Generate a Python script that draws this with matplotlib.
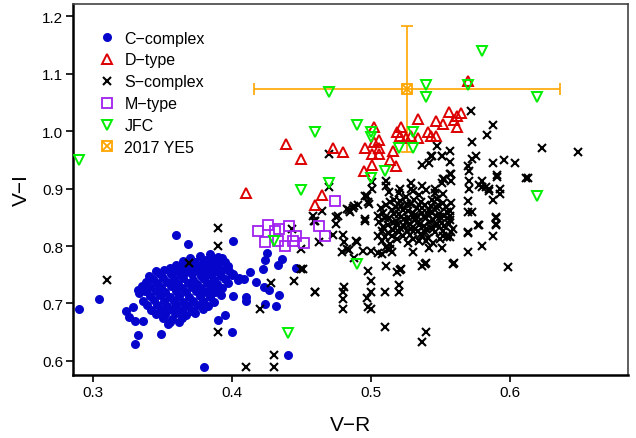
import matplotlib
matplotlib.use("Agg")
import matplotlib.pyplot as plt
from matplotlib.lines import Line2D

plt.rcParams["font.family"] = ["Liberation Sans", "DejaVu Sans"]

# ── data (V-R, V-I) ────────────────────────────────────────────────────────────

C_COMPLEX = [
    # sparse
    (0.290, 0.690), (0.304, 0.708), (0.360, 0.820), (0.368, 0.804), (0.324, 0.687),
    (0.326, 0.677), (0.330, 0.670), (0.332, 0.645), (0.330, 0.629), (0.349, 0.647),
    (0.332, 0.724), (0.337, 0.722), (0.329, 0.694), (0.336, 0.670), (0.354, 0.664),
    (0.401, 0.809), (0.425, 0.788), (0.424, 0.776), (0.422, 0.760), (0.436, 0.778),
    (0.433, 0.767), (0.446, 0.762), (0.413, 0.755), (0.417, 0.738), (0.423, 0.729),
    (0.427, 0.724), (0.434, 0.715), (0.432, 0.696), (0.424, 0.699), (0.410, 0.711),
    (0.410, 0.704), (0.401, 0.713), (0.395, 0.680), (0.390, 0.671), (0.400, 0.650),
    (0.380, 0.589), (0.440, 0.610), (0.409, 0.742), (0.405, 0.745), (0.401, 0.752),
    # dense clump
    (0.384, 0.786), (0.390, 0.781),
    (0.370, 0.779), (0.377, 0.782), (0.381, 0.776), (0.387, 0.777), (0.393, 0.779),
    (0.365, 0.774), (0.373, 0.772), (0.379, 0.771), (0.386, 0.770), (0.395, 0.773),
    (0.360, 0.767), (0.368, 0.769), (0.375, 0.765), (0.383, 0.766), (0.390, 0.768), (0.397, 0.766),
    (0.355, 0.762), (0.363, 0.763), (0.371, 0.760), (0.379, 0.761), (0.388, 0.762), (0.393, 0.759),
    (0.345, 0.757), (0.351, 0.759), (0.359, 0.756), (0.367, 0.755), (0.376, 0.757), (0.383, 0.754),
    (0.390, 0.755), (0.398, 0.757),
    (0.348, 0.751), (0.356, 0.752), (0.363, 0.749), (0.371, 0.751), (0.378, 0.748), (0.385, 0.750),
    (0.392, 0.747), (0.340, 0.748), (0.400, 0.750),
    (0.343, 0.743), (0.350, 0.745), (0.358, 0.742), (0.365, 0.744), (0.372, 0.741), (0.380, 0.743),
    (0.387, 0.741), (0.395, 0.742), (0.404, 0.741),
    (0.338, 0.737), (0.346, 0.735), (0.353, 0.737), (0.361, 0.734), (0.368, 0.736), (0.375, 0.733),
    (0.382, 0.735), (0.389, 0.734), (0.397, 0.736),
    (0.341, 0.729), (0.349, 0.728), (0.356, 0.730), (0.364, 0.727), (0.371, 0.729), (0.378, 0.726),
    (0.385, 0.728), (0.393, 0.727), (0.335, 0.731),
    (0.338, 0.721), (0.345, 0.722), (0.352, 0.720), (0.360, 0.721), (0.367, 0.719), (0.374, 0.721),
    (0.381, 0.719), (0.388, 0.720), (0.333, 0.718),
    (0.341, 0.713), (0.348, 0.714), (0.355, 0.712), (0.362, 0.713), (0.369, 0.711), (0.377, 0.713),
    (0.384, 0.712), (0.392, 0.714),
    (0.336, 0.705), (0.344, 0.706), (0.351, 0.704), (0.358, 0.705), (0.365, 0.703), (0.372, 0.705),
    (0.379, 0.704), (0.387, 0.703),
    (0.339, 0.697), (0.346, 0.698), (0.353, 0.696), (0.360, 0.697), (0.368, 0.695), (0.375, 0.697),
    (0.383, 0.696),
    (0.342, 0.689), (0.349, 0.690), (0.357, 0.688), (0.364, 0.689), (0.371, 0.687), (0.379, 0.690),
    (0.345, 0.682), (0.352, 0.681), (0.360, 0.683), (0.367, 0.680), (0.373, 0.683),
    (0.350, 0.674), (0.357, 0.673), (0.364, 0.675),
    (0.355, 0.667), (0.362, 0.668),
]

D_TYPE = [
    (0.410, 0.893), (0.439, 0.977), (0.450, 0.952), (0.460, 0.872), (0.473, 0.971),
    (0.480, 0.963), (0.465, 0.889), (0.495, 0.931), (0.501, 0.942), (0.501, 0.961),
    (0.496, 0.971), (0.502, 0.982), (0.502, 1.008), (0.506, 0.984), (0.506, 0.971),
    (0.506, 0.961), (0.514, 0.950), (0.518, 0.940), (0.516, 0.966), (0.519, 0.999),
    (0.522, 1.008), (0.521, 0.992), (0.525, 0.989), (0.529, 0.992), (0.534, 0.989),
    (0.534, 1.022), (0.541, 0.999), (0.543, 0.992), (0.547, 0.992), (0.547, 1.017),
    (0.552, 1.013), (0.556, 1.034), (0.560, 1.019), (0.562, 1.008), (0.562, 1.027),
    (0.565, 1.032), (0.570, 1.088),
]

S_COMPLEX = [
    # sparse, lower left
    (0.310, 0.741), (0.390, 0.832), (0.390, 0.800), (0.369, 0.771), (0.390, 0.650),
    (0.428, 0.736), (0.420, 0.690), (0.443, 0.830), (0.450, 0.795), (0.450, 0.760),
    (0.445, 0.739), (0.460, 0.720), (0.410, 0.589), (0.430, 0.610), (0.430, 0.589),
    (0.458, 0.853), (0.460, 0.844),
    # lower tail
    (0.465, 0.861), (0.459, 0.844), (0.463, 0.807), (0.451, 0.760), (0.460, 0.720),
    (0.473, 0.820), (0.475, 0.851), (0.475, 0.839), (0.480, 0.820), (0.479, 0.790),
    (0.484, 0.793), (0.481, 0.807), (0.485, 0.860), (0.491, 0.872), (0.496, 0.844),
    (0.490, 0.807), (0.494, 0.792), (0.500, 0.792), (0.505, 0.788), (0.488, 0.779),
    (0.498, 0.757), (0.500, 0.739), (0.500, 0.720), (0.497, 0.710), (0.498, 0.694),
    (0.500, 0.690), (0.481, 0.729), (0.480, 0.720), (0.480, 0.708), (0.480, 0.690),
    (0.510, 0.720), (0.511, 0.765), (0.510, 0.659), (0.519, 0.755), (0.521, 0.759),
    (0.520, 0.732), (0.520, 0.720), (0.537, 0.765), (0.540, 0.771), (0.540, 0.650),
    (0.537, 0.633), (0.560, 0.771), (0.599, 0.764), (0.580, 0.800), (0.588, 0.818),
    (0.590, 0.839), (0.590, 0.851), (0.578, 0.837), (0.570, 0.823), (0.570, 0.790),
    (0.551, 0.797), (0.542, 0.797), (0.530, 0.790), (0.515, 0.790), (0.514, 0.795),
    (0.511, 0.799),
    # upper spread
    (0.572, 1.036), (0.588, 1.010), (0.584, 0.994), (0.573, 0.982), (0.548, 0.975),
    (0.557, 0.966), (0.551, 0.956), (0.557, 0.947), (0.544, 0.956), (0.542, 0.945),
    (0.576, 0.957), (0.573, 0.952), (0.570, 0.940), (0.588, 0.945), (0.596, 0.949),
    (0.604, 0.945), (0.623, 0.970), (0.649, 0.964), (0.613, 0.919), (0.591, 0.921),
    (0.571, 0.930), (0.557, 0.926), (0.552, 0.916), (0.571, 0.914), (0.580, 0.914),
    (0.580, 0.903), (0.585, 0.900), (0.593, 0.900), (0.546, 0.900),
    (0.470, 0.961), (0.543, 0.957), (0.537, 0.942), (0.551, 0.957),
    (0.558, 0.926), (0.551, 0.909), (0.553, 0.917), (0.558, 0.914), (0.529, 0.909),
    (0.537, 0.905), (0.511, 0.914), (0.511, 0.905), (0.501, 0.912), (0.501, 0.900),
    (0.497, 0.888), (0.498, 0.877), (0.488, 0.870), (0.483, 0.865), (0.476, 0.853),
    (0.470, 0.902), (0.521, 0.900), (0.529, 0.900),
    (0.484, 0.863), (0.487, 0.867), (0.496, 0.888), (0.499, 0.874), (0.496, 0.847),
    (0.489, 0.809), (0.483, 0.795), (0.505, 0.818), (0.508, 0.786), (0.512, 0.795),
    (0.591, 0.923), (0.612, 0.919), (0.578, 0.907), (0.583, 0.903), (0.585, 0.896),
    (0.593, 0.891), (0.588, 0.881), (0.571, 0.900), (0.570, 0.879), (0.570, 0.860),
    (0.573, 0.860), (0.577, 0.837), (0.590, 0.849), (0.590, 0.837), (0.570, 0.825),
    (0.559, 0.769), (0.539, 0.769), (0.522, 0.760), (0.557, 0.816), (0.558, 0.825),
    (0.552, 0.818), (0.540, 0.809), (0.537, 0.818), (0.557, 0.861), (0.557, 0.853),
    # dense core
    (0.506, 0.842), (0.508, 0.826), (0.509, 0.858), (0.510, 0.815), (0.511, 0.871),
    (0.512, 0.836), (0.513, 0.849), (0.514, 0.804), (0.515, 0.862), (0.516, 0.828),
    (0.517, 0.880), (0.518, 0.843), (0.519, 0.812), (0.520, 0.856), (0.521, 0.832),
    (0.522, 0.869), (0.523, 0.818), (0.524, 0.847), (0.525, 0.885), (0.526, 0.826),
    (0.527, 0.861), (0.528, 0.838), (0.529, 0.874), (0.530, 0.813), (0.531, 0.852),
    (0.532, 0.829), (0.533, 0.866), (0.534, 0.842), (0.535, 0.889), (0.536, 0.821),
    (0.537, 0.857), (0.538, 0.835), (0.539, 0.872), (0.540, 0.848), (0.541, 0.814),
    (0.542, 0.863), (0.543, 0.831), (0.544, 0.880), (0.545, 0.845), (0.546, 0.824),
    (0.547, 0.868), (0.548, 0.839), (0.549, 0.855), (0.550, 0.812), (0.552, 0.875),
    (0.553, 0.834), (0.555, 0.860), (0.557, 0.846), (0.559, 0.830),
    (0.507, 0.866), (0.510, 0.849), (0.512, 0.822), (0.514, 0.877), (0.516, 0.840),
    (0.518, 0.868), (0.520, 0.824), (0.522, 0.851), (0.524, 0.834), (0.526, 0.873),
    (0.528, 0.820), (0.530, 0.858), (0.532, 0.845), (0.534, 0.826), (0.536, 0.877),
    (0.538, 0.851), (0.540, 0.829), (0.542, 0.842), (0.544, 0.858), (0.546, 0.836),
    (0.548, 0.882), (0.550, 0.850), (0.552, 0.826), (0.554, 0.868), (0.556, 0.838),
    (0.509, 0.833), (0.513, 0.894), (0.517, 0.855), (0.519, 0.838), (0.521, 0.878),
    (0.523, 0.862), (0.525, 0.842), (0.527, 0.848), (0.529, 0.830), (0.531, 0.880),
    (0.533, 0.852), (0.535, 0.837), (0.537, 0.866), (0.539, 0.824), (0.541, 0.856),
    (0.543, 0.870), (0.545, 0.830), (0.547, 0.852), (0.549, 0.869), (0.551, 0.840),
    (0.553, 0.853), (0.505, 0.853), (0.508, 0.808), (0.520, 0.893), (0.530, 0.895),
    (0.540, 0.898), (0.515, 0.818), (0.527, 0.805), (0.535, 0.808), (0.545, 0.805),
    (0.555, 0.815), (0.558, 0.875), (0.552, 0.890), (0.546, 0.892),
]

M_TYPE = [
    (0.419, 0.827), (0.426, 0.837), (0.431, 0.827), (0.434, 0.830), (0.441, 0.834),
    (0.424, 0.807), (0.433, 0.809), (0.438, 0.800), (0.444, 0.809), (0.446, 0.818),
    (0.452, 0.806), (0.474, 0.879), (0.463, 0.835), (0.467, 0.818),
]

JFC = [
    (0.290, 0.950), (0.470, 1.069), (0.540, 1.080), (0.540, 1.059), (0.580, 1.139),
    (0.570, 1.080), (0.620, 1.059), (0.460, 0.999), (0.490, 1.010), (0.500, 0.999),
    (0.500, 0.990), (0.530, 0.999), (0.520, 0.970), (0.530, 0.970), (0.510, 0.931),
    (0.500, 0.919), (0.470, 0.910), (0.450, 0.898), (0.620, 0.888), (0.490, 0.769),
    (0.430, 0.809), (0.440, 0.649),
]

YE5_VR, YE5_VI = 0.526, 1.074
YE5_VR_ERR, YE5_VI_ERR = 0.110, 0.110

X_TICKS = [0.3, 0.4, 0.5, 0.6]
Y_TICKS = [0.6, 0.7, 0.8, 0.9, 1.0, 1.1, 1.2]

BLUE, RED, GREEN, PURPLE, ORANGE = "#0505cc", "#dd0000", "#00ee00", "#a020f0", "#ffa500"

# marker styles shared by plot and legend
STY_C = dict(marker="o", ls="none", color=BLUE, ms=6.5, mew=0)
STY_S = dict(marker="x", ls="none", color="black", ms=6, mew=1.5)
STY_D = dict(marker="^", ls="none", mfc="none", mec=RED, ms=7.5, mew=1.4)
STY_M = dict(marker="s", ls="none", mfc="none", mec=PURPLE, ms=7, mew=1.3)
STY_J = dict(marker="v", ls="none", mfc="none", mec=GREEN, ms=7.5, mew=1.4)
STY_Y1 = dict(marker="s", ls="none", mfc="none", mec=ORANGE, ms=6.5, mew=1.3)
STY_Y2 = dict(marker="x", ls="none", color=ORANGE, ms=6.5, mew=1.3)

# ── figure ─────────────────────────────────────────────────────────────────────

fig = plt.figure(figsize=(6.36, 4.39), dpi=100)
ax = fig.add_axes([0.115, 0.144, 0.872, 0.845])

ax.errorbar(YE5_VR, YE5_VI, xerr=YE5_VR_ERR, yerr=YE5_VI_ERR, fmt="none",
            ecolor=ORANGE, elinewidth=1.2, capsize=4, capthick=1.2, zorder=1)

cx, cy = zip(*C_COMPLEX)
ax.plot(cx, cy, zorder=2, **STY_C)
sx, sy = zip(*S_COMPLEX)
ax.plot(sx, sy, zorder=3, **STY_S)
dx, dy = zip(*D_TYPE)
ax.plot(dx, dy, zorder=4, **STY_D)
mx, my = zip(*M_TYPE)
ax.plot(mx, my, zorder=4, **STY_M)
jx, jy = zip(*JFC)
ax.plot(jx, jy, zorder=5, **STY_J)
ax.plot(YE5_VR, YE5_VI, zorder=6, **STY_Y1)
ax.plot(YE5_VR, YE5_VI, zorder=6, **STY_Y2)

ax.set_xlim(0.2856, 0.685)
ax.set_ylim(0.5756, 1.222)
ax.set_xticks(X_TICKS)
ax.set_yticks(Y_TICKS)
ax.set_xticklabels([f"{v:.1f}" for v in X_TICKS])
ax.set_yticklabels([f"{v:.1f}" for v in Y_TICKS])
ax.tick_params(direction="out", length=5, width=1.2, labelsize=11, pad=2)
ax.set_xlabel("V\u2212R", fontsize=15, labelpad=12)
ax.set_ylabel("V\u2212I", fontsize=15, labelpad=8)

for side in ("left", "bottom"):
    ax.spines[side].set_linewidth(1.8)
    ax.spines[side].set_color("black")
for side in ("top", "right"):
    ax.spines[side].set_linewidth(1.2)
    ax.spines[side].set_color("#444444")

handles = [
    Line2D([], [], **STY_C),
    Line2D([], [], **STY_D),
    Line2D([], [], **STY_S),
    Line2D([], [], **STY_M),
    Line2D([], [], **STY_J),
    (Line2D([], [], **STY_Y1), Line2D([], [], **STY_Y2)),
]
labels = ["C\u2212complex", "D\u2212type", "S\u2212complex", "M\u2212type", "JFC", "2017 YE5"]
ax.legend(handles, labels, loc="upper left", bbox_to_anchor=(0.035, 0.945),
          frameon=False, fontsize=11.5, handlelength=1.0, handletextpad=0.6,
          labelspacing=0.43, borderaxespad=0)

fig.savefig("out.png", dpi=100)
